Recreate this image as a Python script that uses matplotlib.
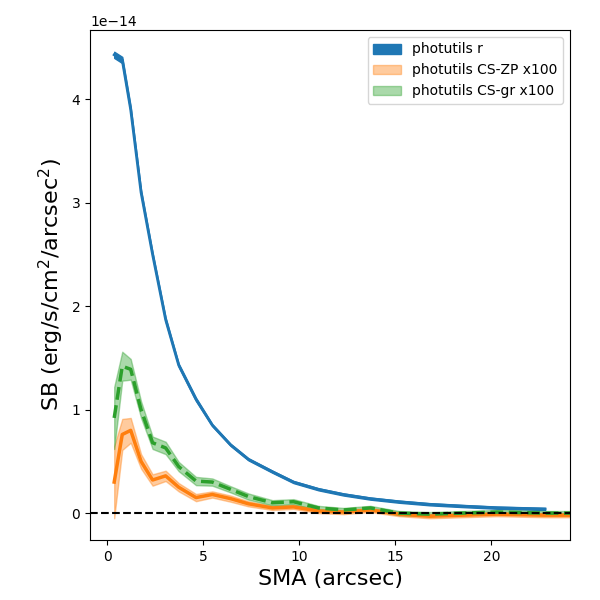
import numpy as np
import matplotlib
matplotlib.use("Agg")
import matplotlib.pyplot as plt

sma = [0.36, 0.78, 1.22, 1.76, 2.36, 3.04, 3.72, 4.62, 5.47, 6.42, 7.35, 8.6, 9.7,
       11.0, 12.3, 13.7, 15.2, 16.8, 18.5, 20.3, 22.8, 24.4]

# photutils r (units of 1e-14), last point missing
sb_r = [4.43, 4.38, 3.9, 3.1, 2.5, 1.87, 1.43, 1.1, 0.85, 0.66, 0.52, 0.40, 0.30,
        0.23, 0.18, 0.14, 0.11, 0.085, 0.068, 0.052, 0.04]
err_r = [0.03, 0.03, 0.03, 0.025, 0.02, 0.02, 0.015, 0.015, 0.01, 0.01, 0.01, 0.01, 0.01,
         0.01, 0.01, 0.01, 0.01, 0.01, 0.01, 0.01, 0.01]

sb_zp = [0.30, 0.76, 0.80, 0.50, 0.32, 0.36, 0.25, 0.15, 0.18, 0.14, 0.09, 0.05, 0.06,
         0.02, 0.01, 0.03, -0.01, -0.03, -0.02, -0.01, -0.02, -0.02]
err_zp = [0.35, 0.15, 0.12, 0.07, 0.055, 0.05, 0.04, 0.035, 0.03, 0.03, 0.025, 0.02, 0.02,
          0.02, 0.02, 0.02, 0.02, 0.02, 0.02, 0.02, 0.02, 0.02]

sb_gr = [0.92, 1.42, 1.39, 1.00, 0.68, 0.63, 0.45, 0.31, 0.30, 0.23, 0.16, 0.10, 0.11,
         0.05, 0.03, 0.05, 0.0, -0.01, 0.0, 0.01, 0.0, 0.0]
err_gr = [0.30, 0.14, 0.10, 0.08, 0.06, 0.06, 0.045, 0.04, 0.035, 0.03, 0.03, 0.025, 0.025,
          0.02, 0.02, 0.02, 0.02, 0.02, 0.02, 0.02, 0.02, 0.02]

scale = 1e-14
x_r = np.array(sma[:len(sb_r)])
r = np.array(sb_r) * scale
er = np.array(err_r) * scale
x = np.array(sma)
zp = np.array(sb_zp) * scale
ezp = np.array(err_zp) * scale
gr = np.array(sb_gr) * scale
egr = np.array(err_gr) * scale

fig, ax = plt.subplots(figsize=(6, 6), dpi=100)
fig.subplots_adjust(left=0.15, right=0.95, top=0.95, bottom=0.1)

ax.fill_between(x_r, r - er, r + er, color="C0", alpha=1.0, label="photutils r")
ax.plot(x_r, r, color="C0", lw=2)
ax.fill_between(x, zp - ezp, zp + ezp, color="C1", alpha=0.4, label="photutils CS-ZP x100")
ax.plot(x, zp, color="C1", lw=2.5)
ax.fill_between(x, gr - egr, gr + egr, color="C2", alpha=0.4, label="photutils CS-gr x100")
ax.plot(x, gr, color="C2", lw=2.5, ls="--")
ax.axhline(0, color="k", ls="--")

ax.set_xlim(-0.9, 24.1)
ax.set_ylim(-0.26e-14, 4.67e-14)
ax.set_xlabel("SMA (arcsec)", fontsize=16)
ax.set_ylabel("SB (erg/s/cm$^2$/arcsec$^2$)", fontsize=16)
ax.legend(loc="upper right")

fig.savefig("out.png")
